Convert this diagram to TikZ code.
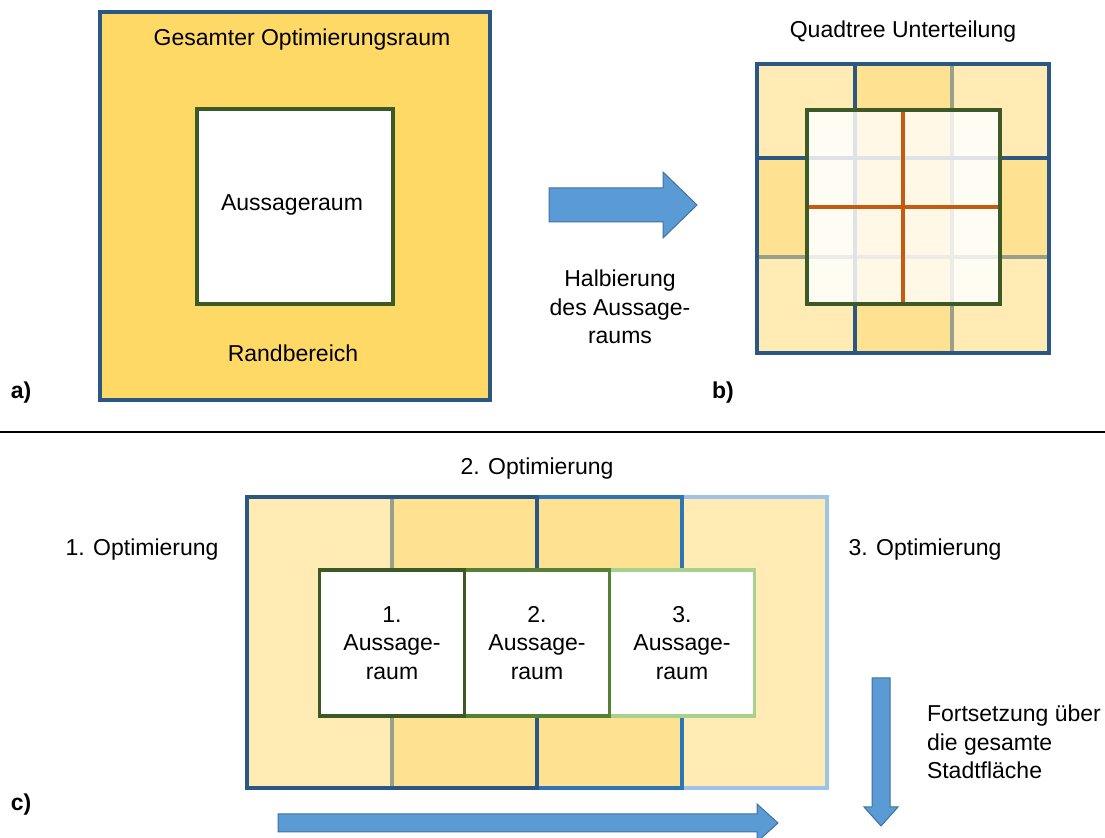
\documentclass[tikz,border=0pt]{standalone}
\usepackage{fontspec}
\setmainfont{Liberation Sans}
\definecolor{frameblue}{HTML}{2A5783}
\definecolor{midblue}{HTML}{2E75B6}
\definecolor{lightblue}{HTML}{9DC3E6}
\definecolor{gold}{HTML}{FFD966}
\definecolor{paleY}{HTML}{FFEBB3}
\definecolor{deepY}{HTML}{FFE291}
\definecolor{dgreen}{HTML}{3B5A25}
\definecolor{mgreen}{HTML}{548235}
\definecolor{lgreen}{HTML}{A9D18E}
\definecolor{orng}{HTML}{C55A11}
\definecolor{arrfill}{HTML}{5B9BD5}
\definecolor{arrline}{HTML}{41719C}
\definecolor{grayline}{HTML}{97A08A}
\definecolor{faintblue}{HTML}{DEE3EA}
\definecolor{faintgray}{HTML}{ECECE6}
\definecolor{creamA}{HTML}{FFFCF4}
\definecolor{creamB}{HTML}{FFF8E6}
\tikzset{
  lbl/.style={font=\fontsize{11.5pt}{14.2pt}\selectfont, inner sep=0pt, outer sep=0pt},
  tag/.style={font=\fontsize{11.5pt}{14.2pt}\selectfont\bfseries, inner sep=0pt},
  frame/.style={line width=1.8pt},
  blockarrow/.style={fill=arrfill, draw=arrline, line width=0.5pt, line join=miter},
}
\begin{document}
\begin{tikzpicture}[x=0.5pt, y=-0.5pt]
\useasboundingbox (0,0) rectangle (1105,838);

% ---------- panel a ----------
\fill[gold] (100,12) rectangle (490,400);
\draw[frame, frameblue] (100,12) rectangle (490,400);
\draw[frame, dgreen, fill=white] (197,109) rectangle (393,304);
\node[lbl] (ga) at (302,40) {Gesamter Optimierungsraum};
\node[lbl] (aa) at (292,205) {Aussageraum};
\node[lbl] (rb) at (293,353) {Randbereich};
\node[tag] (la) at (21,393) {a)};

% ---------- arrow a -> b ----------
\path[blockarrow] (549,188) -- (663,188) -- (663,172) -- (697,205) -- (663,238) -- (663,222) -- (549,222) -- cycle;
\node[lbl, align=center] (hb) at (620,307) {Halbierung\\des Aussage-\\raums};

% ---------- panel b ----------
\node[lbl] (qt) at (903,32) {Quadtree Unterteilung};
\fill[paleY] (757,64) rectangle (1049,353);
\fill[deepY] (855,64) rectangle (952,158);
\fill[deepY] (757,158) rectangle (855,257);
\fill[deepY] (952,158) rectangle (1049,257);
\fill[deepY] (855,257) rectangle (952,353);
\fill[deepY] (855,158) rectangle (952,257);
\draw[frame, grayline] (952,64) -- (952,353);
\draw[frame, grayline] (757,257) -- (1049,257);
\draw[frame, frameblue] (855,64) -- (855,353);
\draw[frame, frameblue] (757,158) -- (1049,158);
\draw[frame, frameblue] (757,64) rectangle (1049,353);
% inner square
\fill[creamA] (807,110) rectangle (1000,304);
\fill[creamB] (855,110) rectangle (952,304);
\draw[frame, faintgray] (952,110) -- (952,304);
\draw[frame, faintgray] (807,257) -- (1000,257);
\draw[frame, faintblue] (855,110) -- (855,304);
\draw[frame, faintblue] (807,158) -- (1000,158);
\draw[frame, orng] (903,110) -- (903,304);
\draw[frame, orng] (807,207) -- (1000,207);
\draw[frame, dgreen] (807,110) rectangle (1000,304);
\node[tag] (lb) at (723,393) {b)};

% ---------- separator ----------
\draw[line width=1pt, black] (0,432) -- (1105,432);

% ---------- panel c ----------
\node[lbl] (o2) at (537,469) {2. Optimierung};
\node[lbl] (o1) at (142,550) {1. Optimierung};
\node[lbl] (o3) at (925,550) {3. Optimierung};
\fill[paleY] (247,497) rectangle (392,788);
\fill[deepY] (392,497) rectangle (682,788);
\fill[paleY] (682,497) rectangle (827,788);
\draw[frame, grayline] (392,497) -- (392,788);
\draw[frame, lightblue] (682,497) -- (827,497) -- (827,788) -- (682,788);
\draw[frame, midblue] (537,497) -- (682,497) -- (682,788) -- (537,788);
\draw[frame, frameblue] (537,497) -- (247,497) -- (247,788) -- (537,788) -- cycle;
\draw[frame, lgreen, fill=white] (609.5,570) rectangle (754.5,716);
\draw[frame, mgreen, fill=white] (464.5,570) rectangle (609.5,716);
\draw[frame, dgreen, fill=white] (319.5,570) rectangle (464.5,716);
\node[lbl, align=center] (b1) at (392,643) {1.\\Aussage-\\raum};
\node[lbl, align=center] (b2) at (537,643) {2.\\Aussage-\\raum};
\node[lbl, align=center] (b3) at (682,643) {3.\\Aussage-\\raum};
\node[lbl, align=left, anchor=west] (fs) at (927,742) {Fortsetzung über\\die gesamte\\Stadtfläche};
\node[tag] (lc) at (21,805) {c)};

% arrows in panel c
\path[blockarrow] (872,678) -- (890,678) -- (890,807) -- (898,807) -- (881,826) -- (864,807) -- (872,807) -- cycle;
\path[blockarrow] (278,814) -- (757,814) -- (757,804) -- (778,823) -- (757,842) -- (757,832) -- (278,832) -- cycle;
\end{tikzpicture}
\end{document}
